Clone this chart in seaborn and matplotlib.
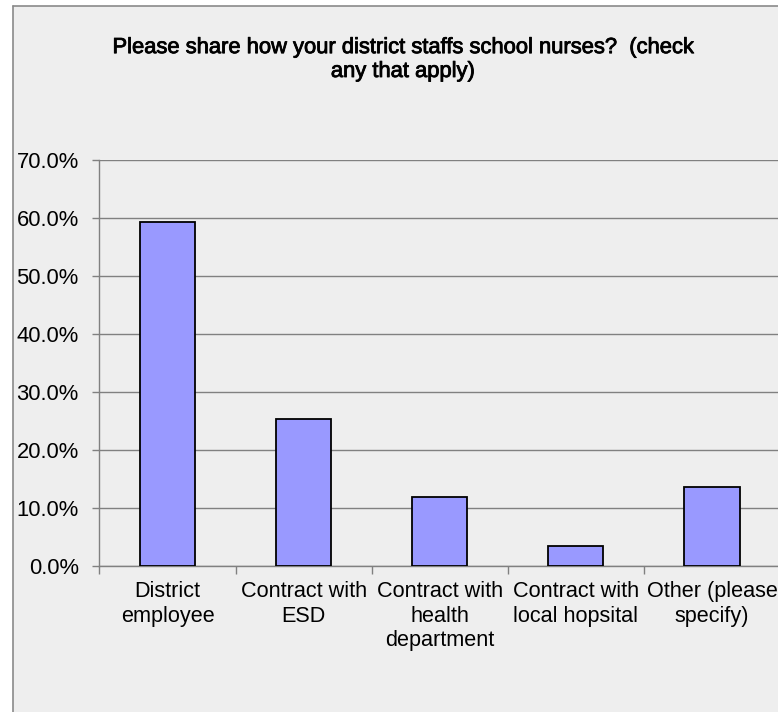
import matplotlib
matplotlib.use("Agg")
import matplotlib.pyplot as plt
import matplotlib.patheffects as pe
import seaborn as sns
import pandas as pd
import numpy as np
from matplotlib.patches import Rectangle
from matplotlib.lines import Line2D
from matplotlib.ticker import FixedLocator, FuncFormatter

categories = ["District\nemployee", "Contract with\nESD", "Contract with\nhealth\ndepartment",
              "Contract with\nlocal hopsital", "Other (please\nspecify)"]
values = [59.3, 25.4, 11.9, 3.4, 13.6]
yticks = [0, 10, 20, 30, 40, 50, 60, 70]
title = "Please share how your district staffs school nurses?  (check\nany that apply)"

sns.set_theme(style="white")
plt.rcParams['font.family'] = ['Liberation Sans', 'DejaVu Sans']

W, H = 778, 712
fig = plt.figure(figsize=(W / 100, H / 100), dpi=100)
fig.patch.set_facecolor("white")

# chart area background and border
bg = "#EEEEEE"
fig.patches.append(Rectangle((13 / W, 0), 1, 1 - 6 / H, transform=fig.transFigure,
                             facecolor=bg, edgecolor="none", zorder=-10))
fig.lines.append(Line2D([13 / W, 13 / W], [0, 1 - 6 / H], transform=fig.transFigure,
                        color="#8A8A8A", lw=1.2))
fig.lines.append(Line2D([13 / W, 1], [1 - 6 / H, 1 - 6 / H], transform=fig.transFigure,
                        color="#8A8A8A", lw=1.2))

left, right, top, bottom = 99.5 / W, 780 / W, 1 - 160 / H, 1 - 566 / H
ax = fig.add_axes([left, bottom, right - left, top - bottom])
ax.set_facecolor(bg)

df = pd.DataFrame({"cat": categories, "val": values})
sns.barplot(data=df, x="cat", y="val", ax=ax, color="#9999FF", saturation=1,
            width=0.405, edgecolor="black", linewidth=1.3, zorder=3)

ax.set_xlim(-0.5, len(categories) - 0.5)
ax.set_ylim(0, 70)
ax.set_yticks(yticks)
ax.yaxis.set_major_formatter(FuncFormatter(lambda v, p: f"{v:.1f}%"))
ax.grid(axis="y", color="#808080", lw=1.0, zorder=0)
ax.grid(axis="x", visible=False)
ax.set_axisbelow(True)
ax.set_xlabel("")
ax.set_ylabel("")

for s in ["top", "right"]:
    ax.spines[s].set_visible(False)
for s in ["left", "bottom"]:
    ax.spines[s].set_color("#808080")
    ax.spines[s].set_linewidth(1.0)

ax.tick_params(axis="y", which="major", length=5, width=1.0, color="#808080",
               direction="out", labelsize=15.8, pad=10, labelcolor="black", left=True)
ax.tick_params(axis="x", which="major", length=0, labelsize=15.6, pad=11, labelcolor="black")
ax.xaxis.set_minor_locator(FixedLocator(np.arange(-0.5, len(categories), 1.0)))
ax.tick_params(axis="x", which="minor", length=6, width=1.0, color="#808080",
               direction="out", bottom=True)
for lab in ax.get_xticklabels():
    lab.set_linespacing(1.22)

t = fig.text(403 / W, 1 - 77 / H, title, ha="center", va="baseline", fontsize=15.8,
             linespacing=1.18, color="black")
t.set_path_effects([pe.withStroke(linewidth=0.6, foreground="black")])

fig.savefig("out.png", dpi=100, facecolor="white")
